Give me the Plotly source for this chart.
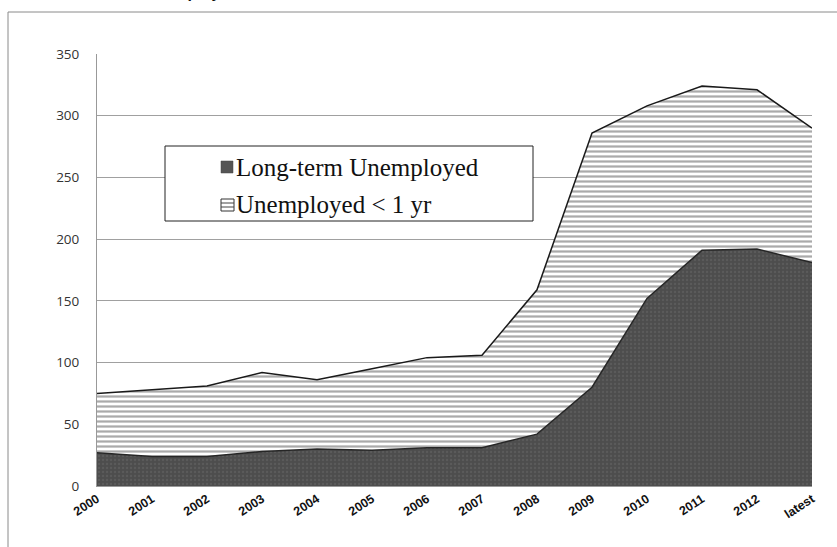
import plotly.graph_objects as go

categories = ["2000", "2001", "2002", "2003", "2004", "2005", "2006",
              "2007", "2008", "2009", "2010", "2011", "2012", "latest"]
long_term = [27, 24, 24, 28, 30, 29, 31, 31, 42, 80, 152, 191, 192, 181]
under_1yr = [48, 54, 57, 64, 56, 66, 73, 75, 117, 206, 156, 133, 129, 109]
y_ticks = [0, 50, 100, 150, 200, 250, 300, 350]
series_names = ["Long-term Unemployed", "Unemployed < 1 yr"]

xs = list(range(len(categories)))

fig = go.Figure()
fig.add_trace(go.Scatter(
    x=xs, y=long_term, name=series_names[0], stackgroup="one",
    mode="lines", line=dict(color="#262626", width=1.5),
    fillcolor="#505050",
    fillpattern=dict(shape=".", bgcolor="#4d4d4d", fgcolor="#686868", size=4, solidity=0.25),
))
fig.add_trace(go.Scatter(
    x=xs, y=under_1yr, name=series_names[1], stackgroup="one",
    mode="lines", line=dict(color="#1a1a1a", width=1.5),
    fillcolor="white",
    fillpattern=dict(shape="-", bgcolor="white", fgcolor="#555555", size=5, solidity=0.45),
))

W, H = 837, 547
L, R, T, B = 97, 25, 54, 61
pw, ph = W - L - R, H - T - B

def px2x(px):
    return (px - L) / pw

def py2y(py):
    return (H - B - py) / ph

shapes = [
    dict(type="rect", xref="paper", yref="paper",
         x0=px2x(8), x1=px2x(950), y0=py2y(620), y1=py2y(12),
         line=dict(color="#8a8a8a", width=1), layer="below"),
    dict(type="rect", xref="paper", yref="paper",
         x0=px2x(165), x1=px2x(533), y0=py2y(221), y1=py2y(146),
         line=dict(color="#222", width=1), fillcolor="white", layer="above"),
    dict(type="rect", xref="paper", yref="paper",
         x0=px2x(221), x1=px2x(233), y0=py2y(173), y1=py2y(161),
         line=dict(color="#444", width=0.5), fillcolor="#555555", layer="above"),
    dict(type="rect", xref="paper", yref="paper",
         x0=px2x(221), x1=px2x(234), y0=py2y(211), y1=py2y(199),
         line=dict(color="#333", width=1), fillcolor="white", layer="above"),
]
for yy in (203, 207):
    shapes.append(dict(type="line", xref="paper", yref="paper",
                       x0=px2x(221), x1=px2x(234), y0=py2y(yy), y1=py2y(yy),
                       line=dict(color="#444", width=1), layer="above"))

annotations = [
    dict(text="<b>Unemployed</b>", xref="paper", yref="paper",
         x=px2x(241), y=py2y(3), xanchor="right", yanchor="bottom",
         showarrow=False, font=dict(family="Liberation Sans", size=16, color="#111")),
    dict(text=series_names[0], xref="paper", yref="paper",
         x=px2x(234), y=py2y(167), xanchor="left", yanchor="middle",
         showarrow=False, font=dict(family="Liberation Serif", size=25, color="#111")),
    dict(text=series_names[1], xref="paper", yref="paper",
         x=px2x(234), y=py2y(204), xanchor="left", yanchor="middle",
         showarrow=False, font=dict(family="Liberation Serif", size=25, color="#111")),
]

fig.update_layout(
    width=W, height=H,
    margin=dict(l=L, r=R, t=T, b=B),
    paper_bgcolor="white", plot_bgcolor="white",
    showlegend=False,
    xaxis=dict(
        range=[0, len(categories) - 1], tickvals=xs, ticktext=categories,
        tickangle=-33, showgrid=False, zeroline=False,
        showline=True, linecolor="#999", ticks="",
        tickfont=dict(family="Liberation Sans", size=12.5, color="#111", weight="bold"),
    ),
    yaxis=dict(
        range=[0, 350], tickvals=y_ticks, showgrid=True, gridcolor="#a0a0a0",
        gridwidth=1, zeroline=False, showline=True, linecolor="#999",
        ticks="", ticklabelstandoff=14,
        tickfont=dict(family="Open Sans", size=13.5, color="#333"),
    ),
    shapes=shapes,
    annotations=annotations,
)

fig.write_html("out.html")
